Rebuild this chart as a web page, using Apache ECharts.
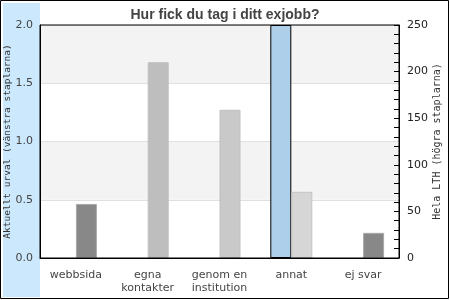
<!DOCTYPE html>
<html>
<head>
<meta charset="utf-8">
<script src="https://cdn.jsdelivr.net/npm/echarts@6/dist/echarts.min.js"></script>
<style>html,body{margin:0;padding:0;background:#fff}#c{width:450px;height:300px}</style>
</head>
<body>
<div id="c"></div>
<script>
var categories = ['webbsida', 'egna\nkontakter', 'genom en\ninstitution', 'annat', 'ej svar'];
var leftValues = [null, null, null, 2.0, null];
var rightValues = [58, 210, 159, 71, 27];
var leftTicks = [0, 0.5, 1.0, 1.5, 2.0];
var rightTicks = [0, 50, 100, 150, 200, 250];

var rightFill = ['#888888', '#bebebe', '#c9c9c9', '#d6d6d6', '#888888'];
var rightBorder = ['#a8a8a8', '#bebebe', '#c0c0c0', '#c4c4c4', '#a8a8a8'];

var chart = echarts.init(document.getElementById('c'), null, {renderer: 'canvas'});
chart.setOption({
  animation: false,
  backgroundColor: '#fff',
  title: {
    text: 'Hur fick du tag i ditt exjobb?',
    left: 'center', top: 3,
    textStyle: {fontFamily: 'Liberation Sans', fontSize: 14, fontWeight: 'bold', color: '#444'}
  },
  graphic: [
    {type: 'rect', shape: {x: 3, y: 3, width: 37, height: 294}, style: {fill: '#cce8fc'}, z: -10, silent: true},
    {type: 'rect', shape: {x: 0.5, y: 0.5, width: 448, height: 298}, style: {fill: null, stroke: '#000', lineWidth: 1}, z: 100, silent: true}
  ],
  grid: {left: 40, right: 51, top: 25, bottom: 42, containLabel: false, outerBoundsMode: 'none',
    show: true, borderColor: '#000', borderWidth: 1, backgroundColor: 'transparent', z: 10},
  xAxis: {
    type: 'category', data: categories,
    axisLine: {lineStyle: {color: '#000'}},
    axisTick: {show: false},
    axisLabel: {interval: 0, color: '#444', fontFamily: 'DejaVu Sans', fontSize: 11, margin: 11, lineHeight: 13}
  },
  yAxis: [
    {
      type: 'value', min: leftTicks[0], max: leftTicks[leftTicks.length - 1], interval: 0.5,
      name: 'Aktuellt urval (vänstra staplarna)', nameLocation: 'middle', nameGap: 27, nameMoveOverlap: false,
      nameTextStyle: {fontFamily: 'DejaVu Sans Mono', fontSize: 9.5, color: '#333'},
      axisLine: {show: true, lineStyle: {color: '#000'}},
      axisTick: {show: false},
      axisLabel: {color: '#444', fontFamily: 'DejaVu Sans', fontSize: 11, margin: 7,
        formatter: function (v) { return v.toFixed(1); }},
      splitLine: {show: true, lineStyle: {color: '#e0e0e0'}},
      splitArea: {show: true, areaStyle: {color: ['#ffffff', '#f3f3f3']}}
    },
    {
      type: 'value', min: rightTicks[0], max: rightTicks[rightTicks.length - 1], interval: 50,
      name: 'Hela LTH (högra staplarna)', nameLocation: 'middle', nameGap: 33, nameRotate: 90, nameMoveOverlap: false,
      nameTextStyle: {fontFamily: 'DejaVu Sans Mono', fontSize: 10, color: '#333'},
      axisLine: {show: true, lineStyle: {color: '#000'}},
      axisTick: {show: true, inside: true, length: 5, lineStyle: {color: '#000'}},
      minorTick: {show: true, splitNumber: 5, length: 5, lineStyle: {color: '#000'}},
      axisLabel: {color: '#222', fontFamily: 'DejaVu Sans', fontSize: 11, margin: 8},
      splitLine: {show: false}
    }
  ],
  series: [
    {
      type: 'bar', yAxisIndex: 0, data: leftValues, barWidth: 21, barGap: '0%',
      itemStyle: {color: '#aecfea', borderColor: '#000', borderWidth: 1}
    },
    {
      type: 'bar', yAxisIndex: 1, barWidth: 21, barGap: '0%',
      data: rightValues.map(function (v, i) {
        return {value: v, itemStyle: {color: rightFill[i], borderColor: rightBorder[i], borderWidth: 1}};
      })
    }
  ]
});
</script>
</body>
</html>
